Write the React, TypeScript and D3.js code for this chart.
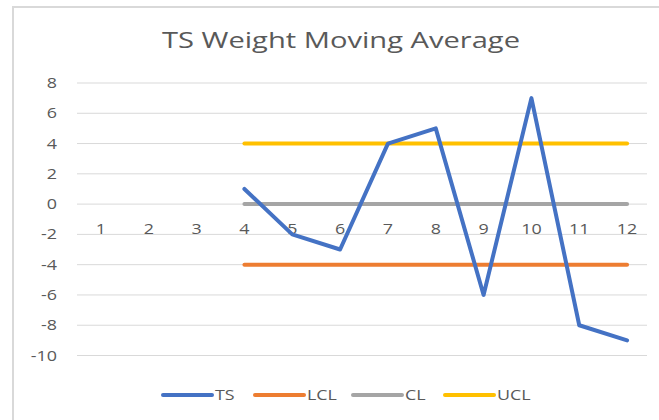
import React from "react";
import * as d3 from "d3";

const categories = ["1", "2", "3", "4", "5", "6", "7", "8", "9", "10", "11", "12"];
const tsValues: (number | null)[] = [null, null, null, 1, -2, -3, 4, 5, -6, 7, -8, -9];
const lclValues: (number | null)[] = [null, null, null, -4, -4, -4, -4, -4, -4, -4, -4, -4];
const clValues: (number | null)[] = [null, null, null, 0, 0, 0, 0, 0, 0, 0, 0, 0];
const uclValues: (number | null)[] = [null, null, null, 4, 4, 4, 4, 4, 4, 4, 4, 4];
const yTicks = [8, 6, 4, 2, 0, -2, -4, -6, -8, -10];

const seriesList = [
  { name: "TS", values: tsValues, color: "#4472C4" },
  { name: "LCL", values: lclValues, color: "#ED7D31" },
  { name: "CL", values: clValues, color: "#A5A5A5" },
  { name: "UCL", values: uclValues, color: "#FFC000" },
];
const drawOrder = ["LCL", "CL", "UCL", "TS"];

const W = 659;
const H = 420;
const plotLeft = 77;
const plotRight = 651;
const font = "'Open Sans', 'Noto Sans', sans-serif";
const textColor = "#595959";
const SX = 1.28;

function StretchText(props: {
  x: number;
  y: number;
  anchor?: "start" | "middle" | "end";
  size: number;
  children: React.ReactNode;
}) {
  return (
    <text
      transform={`translate(${props.x},${props.y}) scale(${SX},1)`}
      textAnchor={props.anchor || "start"}
      fontFamily={font}
      fontSize={props.size}
      fill={textColor}
    >
      {props.children}
    </text>
  );
}

export default function App() {
  const x = d3.scaleBand<string>().domain(categories).range([plotLeft, plotRight]);
  const y = d3.scaleLinear().domain([-10, 8]).range([355.5, 83]);
  const cx = (c: string) => (x(c) as number) + x.bandwidth() / 2;

  const line = d3
    .line<number | null>()
    .defined((d) => d !== null)
    .x((_, i) => cx(categories[i]))
    .y((d) => y(d as number));

  const legendItems = [
    { name: "TS", x: 163 },
    { name: "LCL", x: 255 },
    { name: "CL", x: 353 },
    { name: "UCL", x: 445 },
  ];

  return (
    <svg
      width={W}
      height={H}
      style={{ position: "absolute", left: 0, top: 0, background: "#fff" }}
    >
      <rect x={0} y={0} width={W} height={H} fill="#fff" />
      <rect x={13} y={7} width={W + 20} height={H + 20} fill="none" stroke="#D9D9D9" strokeWidth={2} />
      <text
        x={162}
        y={48}
        textLength={358}
        lengthAdjust="spacingAndGlyphs"
        fontFamily={font}
        fontSize={21}
        fill={textColor}
      >
        TS Weight Moving Average
      </text>
      {yTicks.map((t) => (
        <g key={t}>
          <line
            x1={plotLeft}
            x2={plotRight - 4}
            y1={y(t)}
            y2={y(t)}
            stroke="#D9D9D9"
            strokeWidth={1}
          />
          <StretchText x={57} y={y(t) + 5} anchor="end" size={14}>
            {t}
          </StretchText>
        </g>
      ))}
      {categories.map((c) => (
        <StretchText key={c} x={cx(c)} y={y(0) + 30} anchor="middle" size={14}>
          {c}
        </StretchText>
      ))}
      {drawOrder.map((n) => {
        const s = seriesList.find((q) => q.name === n)!;
        return (
          <path
            key={n}
            d={line(s.values) || ""}
            fill="none"
            stroke={s.color}
            strokeWidth={4}
            strokeLinecap="round"
            strokeLinejoin="round"
          />
        );
      })}
      {legendItems.map((it) => {
        const s = seriesList.find((q) => q.name === it.name)!;
        return (
          <g key={it.name}>
            <line
              x1={it.x}
              x2={it.x + 49}
              y1={395}
              y2={395}
              stroke={s.color}
              strokeWidth={4}
              strokeLinecap="round"
            />
            <StretchText x={it.x + 52} y={400} size={14}>
              {it.name}
            </StretchText>
          </g>
        );
      })}
    </svg>
  );
}
